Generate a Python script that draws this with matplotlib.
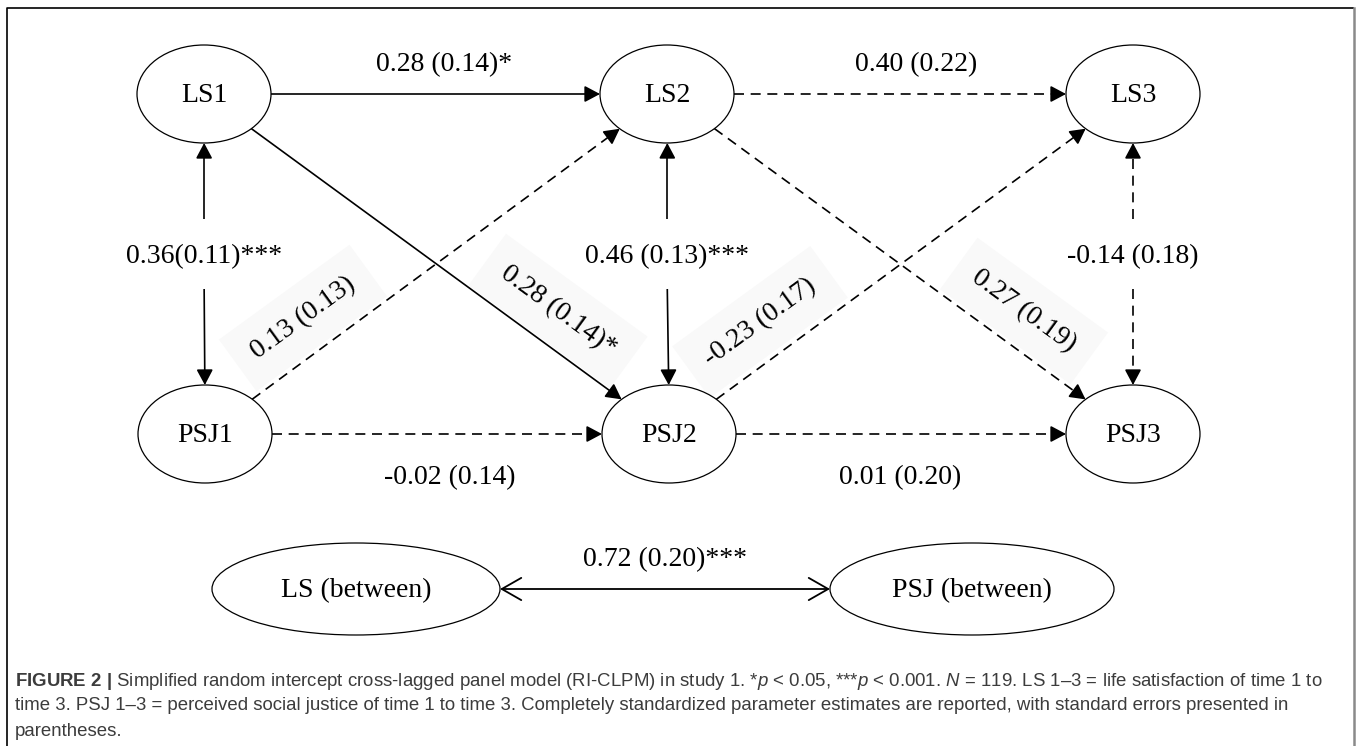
import numpy as np
import matplotlib.pyplot as plt
from matplotlib.patches import Ellipse, FancyArrowPatch

plt.rcParams['mathtext.fontset'] = 'custom'
plt.rcParams['mathtext.rm'] = 'Liberation Sans'
plt.rcParams['mathtext.it'] = 'Liberation Sans:italic'
plt.rcParams['mathtext.bf'] = 'Liberation Sans:bold'

# ---- model content ----
nodes = ['LS1', 'LS2', 'LS3', 'PSJ1', 'PSJ2', 'PSJ3']
between_nodes = ['LS (between)', 'PSJ (between)']

# within-person paths (autoregressive + cross-lagged)
path_from = ['LS1', 'LS2', 'PSJ1', 'PSJ2', 'PSJ1', 'LS1', 'PSJ2', 'LS2']
path_to = ['LS2', 'LS3', 'PSJ2', 'PSJ3', 'LS2', 'PSJ2', 'LS3', 'PSJ3']
path_labels = ['0.28 (0.14)*', '0.40 (0.22)', '-0.02 (0.14)', '0.01 (0.20)',
               '0.13 (0.13)', '0.28 (0.14)*', '-0.23 (0.17)', '0.27 (0.19)']

# within-time covariances
cov_from = ['LS1', 'LS2', 'LS3']
cov_to = ['PSJ1', 'PSJ2', 'PSJ3']
cov_labels = ['0.36(0.11)***', '0.46 (0.13)***', '-0.14 (0.18)']

between_label = '0.72 (0.20)***'

caption = [r'$\mathbf{FIGURE\ 2\ |}$ Simplified random intercept cross-lagged panel model (RI-CLPM) '
           r'in study 1. *$p$ < 0.05, ***$p$ < 0.001. $N$ = 119. LS 1–3 = life satisfaction of time 1 to',
           'time 3. PSJ 1–3 = perceived social justice of time 1 to time 3. Completely standardized '
           'parameter estimates are reported, with standard errors presented in',
           'parentheses.']

# ---- layout (pixel space) ----
pos = {'LS1': (204, 94), 'LS2': (667, 94), 'LS3': (1133, 94),
       'PSJ1': (205, 434), 'PSJ2': (669, 434), 'PSJ3': (1133, 434),
       'LS (between)': (356, 589), 'PSJ (between)': (972, 589)}
size = {n: (67, 49) for n in nodes}
size['LS (between)'] = (144, 46)
size['PSJ (between)'] = (142, 46)

path_label_pos = [(444, 65, 0), (916, 65, 0), (450, 478, 0), (900, 478, 0),
                  (303, 318, 36), (558, 311, -36), (760, 322, 36), (1024, 311, -36)]
cov_label_y = 257
cov_gap = 38

SERIF = 'Liberation Serif'
FS = 20
DASH = (6, 4)
LW = 1.2


def edge(a, b):
    cx, cy = pos[a]
    ax_, ay_ = size[a]
    dx, dy = pos[b][0] - cx, pos[b][1] - cy
    t = 1.0 / np.hypot(dx / ax_, dy / ay_)
    return np.array([cx + t * dx, cy + t * dy])


def arrow(start, end, dashed, head=True):
    start, end = np.asarray(start, float), np.asarray(end, float)
    u = (end - start) / np.hypot(*(end - start))
    hl = 13
    stop = end - u * hl * 0.6 if head else end
    ax.plot([start[0], stop[0]], [start[1], stop[1]], color='black', lw=LW,
            dashes=DASH if dashed else (None, None), zorder=2, solid_capstyle='butt')
    if head:
        ax.add_patch(FancyArrowPatch(posA=end - u * hl, posB=end,
                                     arrowstyle='-|>,head_length=0.47,head_width=0.25',
                                     mutation_scale=20, color='black', lw=LW,
                                     shrinkA=0, shrinkB=0, zorder=3))


fig = plt.figure(figsize=(13.56, 7.46), dpi=100)
ax = fig.add_axes([0, 0, 1, 1])
ax.set_xlim(0, 1356)
ax.set_ylim(746, 0)
ax.axis('off')

# frame
ax.plot([7, 7, 1354], [760, 8, 8], color='black', lw=1.2, solid_capstyle='butt')
ax.plot([1354, 1354], [8, 760], color='#8a8a8a', lw=1.8)

# nodes
for n in nodes + between_nodes:
    cx, cy = pos[n]
    w, h = size[n]
    ax.add_patch(Ellipse((cx, cy), 2 * w, 2 * h, fc='white', ec='black', lw=0.9, zorder=4))
    ax.text(cx, cy + 2, n, family=SERIF, fontsize=FS, ha='center', va='center', zorder=5)

# paths
for f, t, lab, (lx, ly, rot) in zip(path_from, path_to, path_labels, path_label_pos):
    arrow(edge(f, t), edge(t, f), dashed='*' not in lab)
    if rot:
        ax.text(lx, ly, lab, family=SERIF, fontsize=FS, ha='center', va='center',
                rotation=rot, color='none', zorder=1,
                bbox=dict(boxstyle='square,pad=0.7', fc='#f9f9f9', ec='none'))
    ax.text(lx, ly, lab, family=SERIF, fontsize=FS, ha='center', va='center',
            rotation=rot, rotation_mode='anchor', zorder=5)

# covariances between LS and PSJ at the same time point
for f, t, lab in zip(cov_from, cov_to, cov_labels):
    dashed = '*' not in lab
    top, bot = edge(f, t), edge(t, f)
    x = top[0]
    arrow((x, cov_label_y - cov_gap), top, dashed)
    arrow((x, cov_label_y + cov_gap - 6), bot, dashed)
    ax.text(x, cov_label_y, lab, family=SERIF, fontsize=FS, ha='center', va='center', zorder=5)

# between-person covariance
a, b = between_nodes
pa, pb = edge(a, b), edge(b, a)
ax.add_patch(FancyArrowPatch(posA=pa, posB=pb, arrowstyle='<->,head_length=0.7,head_width=0.4',
                             mutation_scale=20, color='black', lw=1.3, shrinkA=0, shrinkB=0, zorder=3))
ax.text((pa[0] + pb[0]) / 2, 560, between_label, family=SERIF, fontsize=FS,
        ha='center', va='center', zorder=5)

# caption
for i, line in enumerate(caption):
    ax.text(15, 681 + i * 25, line, family='Liberation Sans', fontsize=13.4,
            color='#3c3c3c', ha='left', va='center')

fig.savefig('out.png', dpi=100)
